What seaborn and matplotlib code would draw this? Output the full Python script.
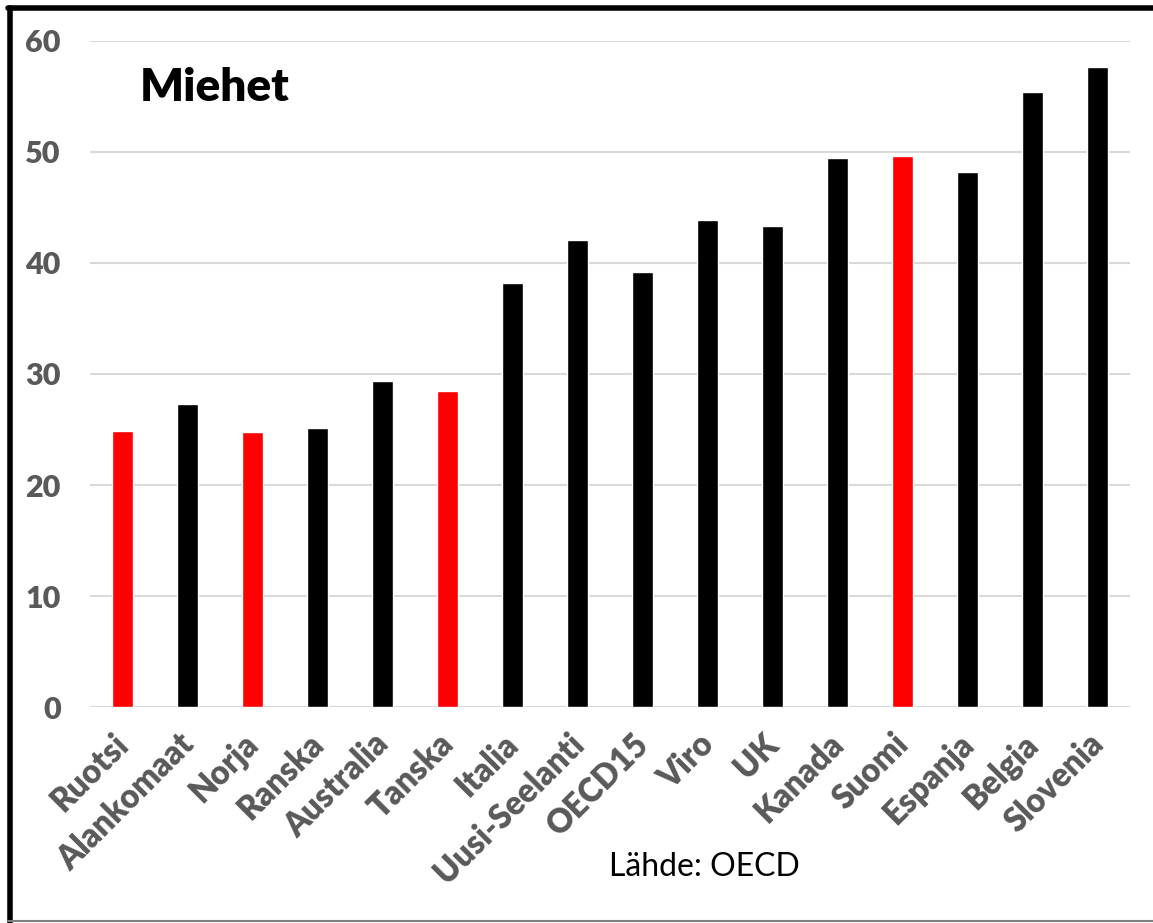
import matplotlib
matplotlib.use('Agg')
import matplotlib.pyplot as plt
import matplotlib.transforms as mtrans
import seaborn as sns
import pandas as pd
from matplotlib.lines import Line2D

sns.set_style('white')
plt.rcParams['font.family'] = ['Lato', 'DejaVu Sans']

# values
maat = ['Ruotsi', 'Alankomaat', 'Norja', 'Ranska', 'Australia', 'Tanska', 'Italia',
        'Uusi-Seelanti', 'OECD15', 'Viro', 'UK', 'Kanada', 'Suomi', 'Espanja',
        'Belgia', 'Slovenia']
arvot = [24.9, 27.3, 24.8, 25.1, 29.4, 28.5, 38.2, 42.1, 39.2, 43.9, 43.3,
         49.5, 49.6, 48.2, 55.4, 57.7]
pohjoismaat = ['Ruotsi', 'Norja', 'Tanska', 'Suomi']

df = pd.DataFrame({'maa': maat, 'arvo': arvot})
varit = {m: ('#ff0000' if m in pohjoismaat else '#000000') for m in maat}

fig = plt.figure(figsize=(11.53, 9.23), dpi=100)
ax = fig.add_axes([0.078, 0.234, 0.902, 0.7216])

sns.barplot(data=df, x='maa', y='arvo', hue='maa', palette=varit, width=0.33,
            legend=False, ax=ax, saturation=1)

ax.set_ylim(0, 60)
ax.set_xlim(-0.5, len(maat) - 0.5)
ax.set_yticks(range(0, 61, 10))
ax.yaxis.grid(True, color='#d9d9d9', lw=1.5)
ax.set_axisbelow(True)
for s in ax.spines.values():
    s.set_visible(False)
ax.set_xlabel('')
ax.set_ylabel('')
ax.tick_params(axis='both', length=0, colors='#595959')
ax.tick_params(axis='y', pad=21, labelsize=22)
ax.tick_params(axis='x', pad=15, labelsize=23.5)
for lab in ax.get_yticklabels():
    lab.set_fontweight('heavy')
siirto = mtrans.ScaledTranslation(-10 / 100, 0, fig.dpi_scale_trans)
for lab in ax.get_xticklabels():
    lab.set_fontweight('heavy')
    lab.set_rotation(45)
    lab.set_ha('right')
    lab.set_rotation_mode('anchor')
    lab.set_transform(lab.get_transform() + siirto)

fig.text(0.121, 0.905, 'Miehet', fontsize=33, fontweight='heavy', va='center', ha='left', color='black')
fig.text(0.611, 0.061, 'Lähde: OECD', fontsize=23, va='center', ha='center', color='black')

# frame
fig.add_artist(Line2D([0.009, 0.009], [0.0, 0.991], transform=fig.transFigure, color='black', lw=4))
fig.add_artist(Line2D([0.007, 1.0], [0.991, 0.991], transform=fig.transFigure, color='black', lw=4))
fig.add_artist(Line2D([0.007, 1.0], [0.002, 0.002], transform=fig.transFigure, color='#808080', lw=1.5))

fig.savefig('out.png', dpi=100)
